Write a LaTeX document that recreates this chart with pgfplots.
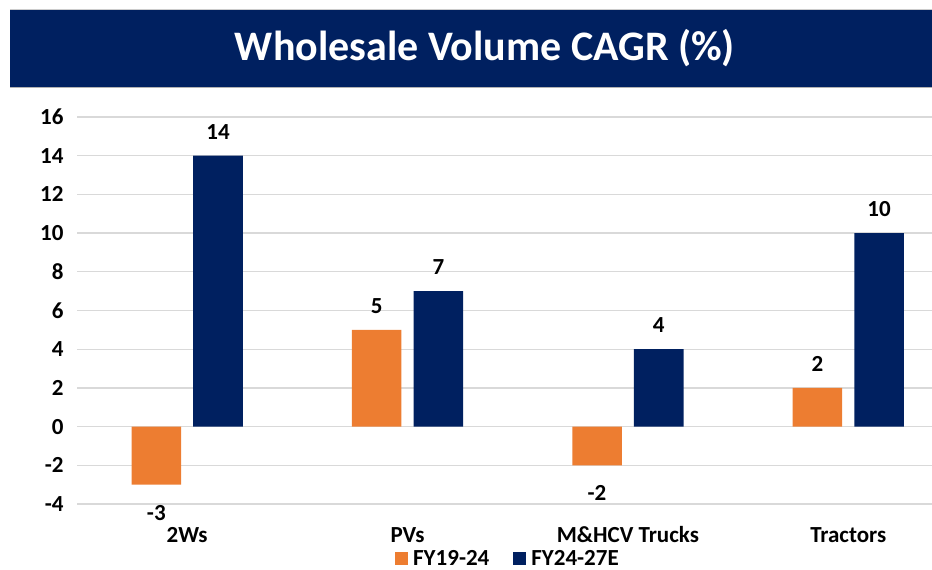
\documentclass[border=0pt]{standalone}
\usepackage{fontspec}
\setmainfont{Carlito}
\usepackage{pgfplots}
\pgfplotsset{compat=1.18}
\definecolor{navy}{HTML}{002060}
\definecolor{orng}{HTML}{ED7D31}
\definecolor{gridc}{HTML}{D9D9D9}
\begin{document}
\begin{tikzpicture}[x=1pt,y=1pt]
\useasboundingbox (0,0) rectangle (932,570);
\fill[navy] (10,482) rectangle (932,561);
\draw[gray!60, line width=1pt] (10,482) -- (932,482);
\draw[gray!40, line width=0.8pt] (10,561) -- (932,561);
\node[text=white, font=\fontsize{42}{48}\selectfont\bfseries] at (485,522) {Wholesale Volume CAGR (\%)};
\begin{axis}[
  at={(77pt,66pt)}, anchor=south west,
  scale only axis, width=855pt, height=387pt,
  ymin=-4, ymax=16, ytick={-4,-2,...,16},
  xmin=-0.5, xmax=3.38,
  xtick={0,1,2,3}, xticklabels={2Ws,PVs,M\&HCV Trucks,Tractors},
  axis line style={draw=none}, tick style={draw=none},
  ymajorgrids, grid style={gridc, line width=1.3pt},
  /pgf/number format/assume math mode=true,
  ticklabel style={font=\fontsize{23}{27}\selectfont\bfseries},
  yticklabel style={xshift=-10pt},
  xticklabel style={anchor=base, yshift=-34pt},
  ybar, bar width=0.225,
  nodes near coords,
  visualization depends on={rawy \as \rawy},
  every node near coord/.append style={font=\fontsize{23}{27}\selectfont\bfseries, anchor=center, yshift={(\rawy<0)*(-52)+24}},
  legend columns=2,
  legend style={at={(0.3684,-0.142)}, anchor=west, draw=none, fill=none,
    font=\fontsize{23}{27}\selectfont\bfseries,
    /tikz/every odd column/.append style={column sep=3pt},
    /tikz/every even column/.append style={column sep=22pt}},
  legend image code/.code={\fill[#1] (0pt,-6.5pt) rectangle (13pt,6.5pt);},
]
\addplot[fill=orng, draw=none, bar shift=-0.14] coordinates {(0,-3) (1,5) (2,-2) (3,2)};
\addplot[fill=navy, draw=none, bar shift=0.14] coordinates {(0,14) (1,7) (2,4) (3,10)};
\legend{FY19-24, FY24-27E}
\end{axis}
\end{tikzpicture}
\end{document}
